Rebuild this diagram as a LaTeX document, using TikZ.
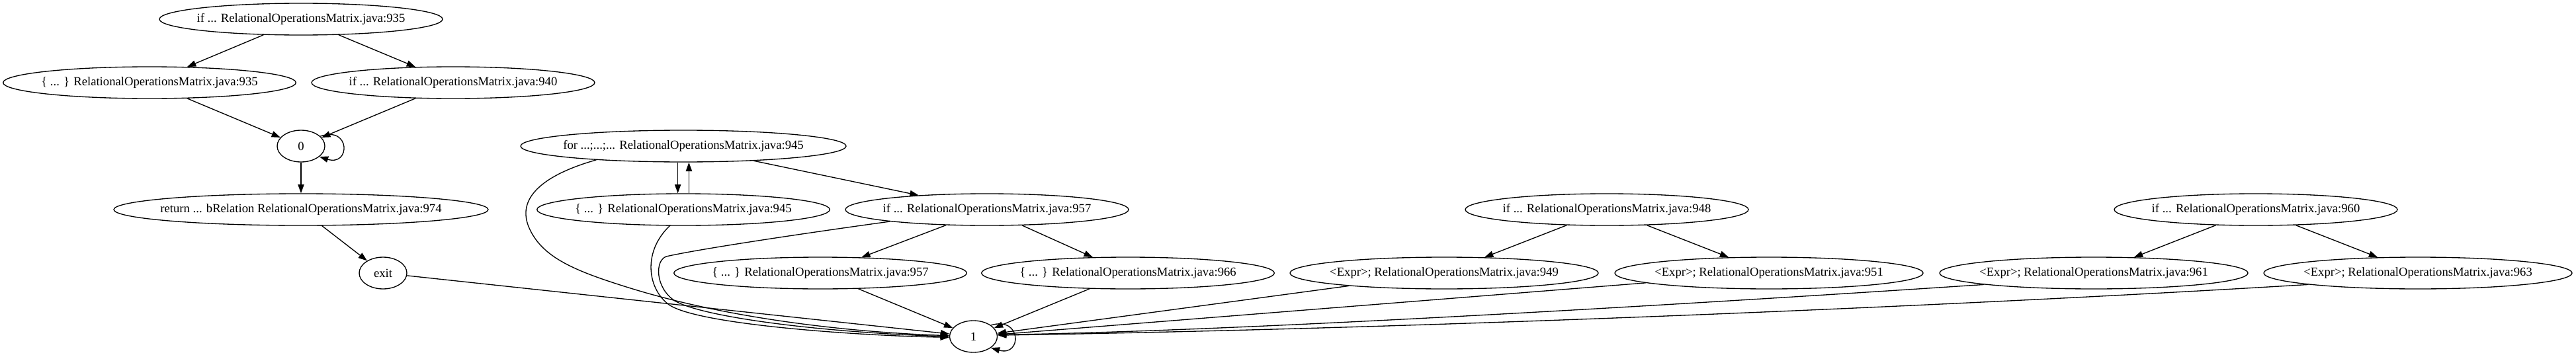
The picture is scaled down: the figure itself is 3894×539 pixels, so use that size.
\documentclass[tikz,border=0pt]{standalone}
\usepackage{fontspec}
\setmainfont{Liberation Serif}
\usetikzlibrary{arrows.meta,shapes.geometric}
\newcommand{\mytxt}[1]{\makebox[0pt]{#1}}
\begin{document}
\begin{tikzpicture}[x=0.75pt,y=-0.75pt,
  nd/.style={draw, ellipse, inner sep=0pt, minimum height=36pt, line width=1pt,
    font=\fontsize{14}{16}\selectfont},
  wif/.style={nd, minimum width=321pt},
  wbr/.style={nd, minimum width=332pt},
  wfor/.style={nd, minimum width=369pt},
  wret/.style={nd, minimum width=424.5pt},
  wexp/.style={nd, minimum width=349.5pt},
  wsm/.style={nd, minimum width=54pt},
  e/.style={line width=1pt, -{Triangle[length=10pt,width=7pt]}}
]
\useasboundingbox (0,0) rectangle (3894,539);
% nodes
\node[wif]  (if935)  at (455,29)   {\mytxt{if ... RelationalOperationsMatrix.java:935}};
\node[wbr]  (b935)   at (226,125)  {\mytxt{\{ ... \} RelationalOperationsMatrix.java:935}};
\node[wif]  (if940)  at (685,125)  {\mytxt{if ... RelationalOperationsMatrix.java:940}};
\node[wsm]  (n0)     at (455,221)  {\mytxt{0}};
\node[wfor] (for945) at (1033,221) {\mytxt{for ...;...;... RelationalOperationsMatrix.java:945}};
\node[wret] (ret)    at (455,317)  {\mytxt{return ... bRelation RelationalOperationsMatrix.java:974}};
\node[wbr]  (b945)   at (1033,317) {\mytxt{\{ ... \} RelationalOperationsMatrix.java:945}};
\node[wif]  (if957)  at (1492,317) {\mytxt{if ... RelationalOperationsMatrix.java:957}};
\node[wif]  (if948)  at (2429,317) {\mytxt{if ... RelationalOperationsMatrix.java:948}};
\node[wif]  (if960)  at (3410,317) {\mytxt{if ... RelationalOperationsMatrix.java:960}};
\node[wsm]  (exit)   at (579,413)  {\mytxt{exit}};
\node[wbr]  (b957)   at (1240,413) {\mytxt{\{ ... \} RelationalOperationsMatrix.java:957}};
\node[wbr]  (b966)   at (1705,413) {\mytxt{\{ ... \} RelationalOperationsMatrix.java:966}};
\node[wexp] (e949)   at (2183,413) {\mytxt{<Expr>; RelationalOperationsMatrix.java:949}};
\node[wexp] (e951)   at (2674,413) {\mytxt{<Expr>; RelationalOperationsMatrix.java:951}};
\node[wexp] (e961)   at (3165,413) {\mytxt{<Expr>; RelationalOperationsMatrix.java:961}};
\node[wexp] (e963)   at (3655,413) {\mytxt{<Expr>; RelationalOperationsMatrix.java:963}};
\node[wsm]  (n1)     at (1471.5,509) {\mytxt{1}};
% edges
\draw[e] (if935) -- (b935);
\draw[e] (if935) -- (if940);
\draw[e] (b935) -- (n0);
\draw[e] (if940) -- (n0);
\draw[e] (n0.27) .. controls (530,190) and (530,252) .. (n0.-30);
\draw[e] (n0) -- (ret);
\draw[e] (ret) -- (exit);
\draw[e] (exit) -- (n1);
\draw[e] ([xshift=-6.3pt]for945.south) -- ([xshift=-6.3pt]b945.north);
\draw[e] ([xshift=6.3pt]b945.north) -- ([xshift=6.3pt]for945.south);
\draw[e] (for945) -- (if957);
\draw[e] (for945.189) .. controls (820,265) and (780,300) .. (800,345)
  .. controls (820,390) and (870,410) .. (950,435)
  .. controls (1110,485) and (1300,503) .. (n1.178);
\draw[e] (b945.230) .. controls (972,380) and (978,435) .. (1010,460)
  .. controls (1050,491) and (1300,508) .. (n1.182);
\draw[e] (if957.187) .. controls (1200,355) and (1050,378) .. (1007,388)
  .. controls (990,394) and (990,435) .. (1020,455)
  .. controls (1065,481) and (1250,503) .. (n1.180);
\draw[e] (if957) -- (b957);
\draw[e] (if957) -- (b966);
\draw[e] (b957) -- (n1);
\draw[e] (b966) -- (n1);
\draw[e] (if948) -- (e949);
\draw[e] (if948) -- (e951);
\draw[e] (if960) -- (e961);
\draw[e] (if960) -- (e963);
\draw[e] (e949) -- (n1);
\draw[e] (e951) -- (n1);
\draw[e] (e961.186) .. controls (2600,457) and (1900,500) .. (n1.4);
\draw[e] (e963.186) .. controls (2900,466) and (2100,498) .. (n1.3);
\draw[e] (n1.33) .. controls (1545,478) and (1545,540) .. (n1.-33);
\end{tikzpicture}
\end{document}
